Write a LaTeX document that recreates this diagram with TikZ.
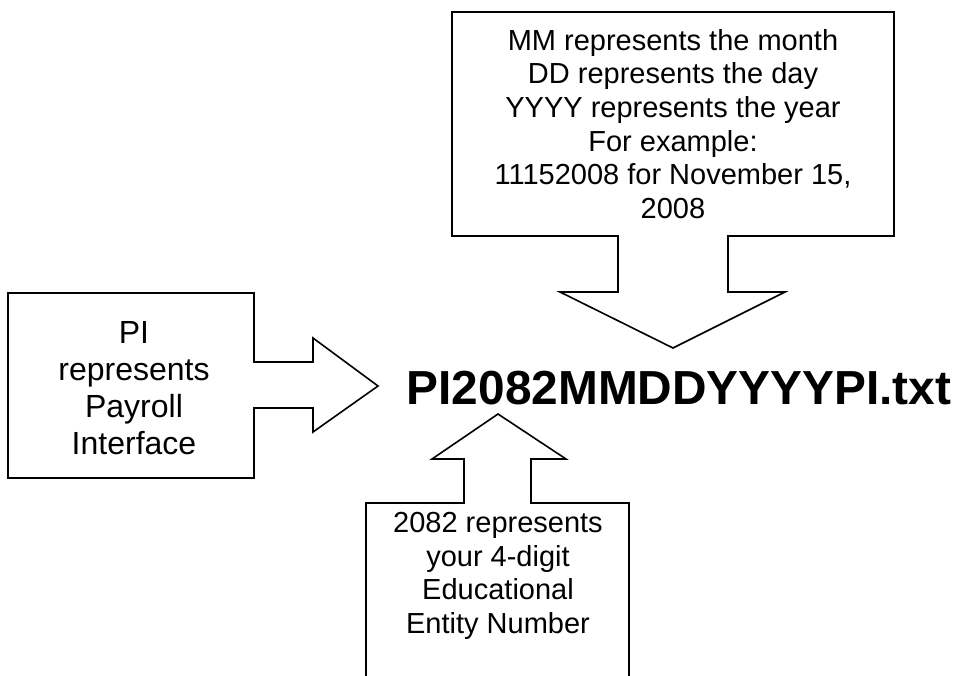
\documentclass[tikz,border=0pt]{standalone}
\usepackage{fontspec}
\setmainfont{Liberation Sans}

\begin{document}
\begin{tikzpicture}[x=1pt, y=-1pt, line width=1.6pt, line join=miter,
  main/.style = {align=center, inner sep=0pt, font=\fontsize{29}{33.6}\selectfont}]
\useasboundingbox (0,0) rectangle (953,675);
\node[inner sep=0pt, anchor=base west, font=\fontsize{47.8}{56}\selectfont\bfseries] (1) at (406,404) {PI2082MMDDYYYYPI.txt};
\node[main, font=\fontsize{32}{37}\selectfont] (2) at (134,388) {PI\\represents\\Payroll\\Interface};
\node[main] (3) at (673,124) {MM represents the month\\DD represents the day\\YYYY represents the year\\For example:\\11152008 for November 15,\\2008};
\node[main] (4) at (498,576) {2082 represents\\your 4-digit\\Educational\\Entity Number};
% left callout
\draw (8,293) -- (254,293) -- (254,362) -- (313,362) -- (313,338) -- (378,386) -- (313,432) -- (313,408) -- (254,408) -- (254,478) -- (8,478) -- cycle;
% top callout
\draw (452,12) -- (894,12) -- (894,236) -- (728,236) -- (728,292) -- (785,292) -- (673,348) -- (560,292) -- (618,292) -- (618,236) -- (452,236) -- cycle;
% bottom callout, cut at the bottom
\draw (366,677) -- (366,503) -- (464,503) -- (464,459) -- (432,459) -- (498,414) -- (566,459) -- (531,459) -- (531,503) -- (629,503) -- (629,677);
\end{tikzpicture}
\end{document}
